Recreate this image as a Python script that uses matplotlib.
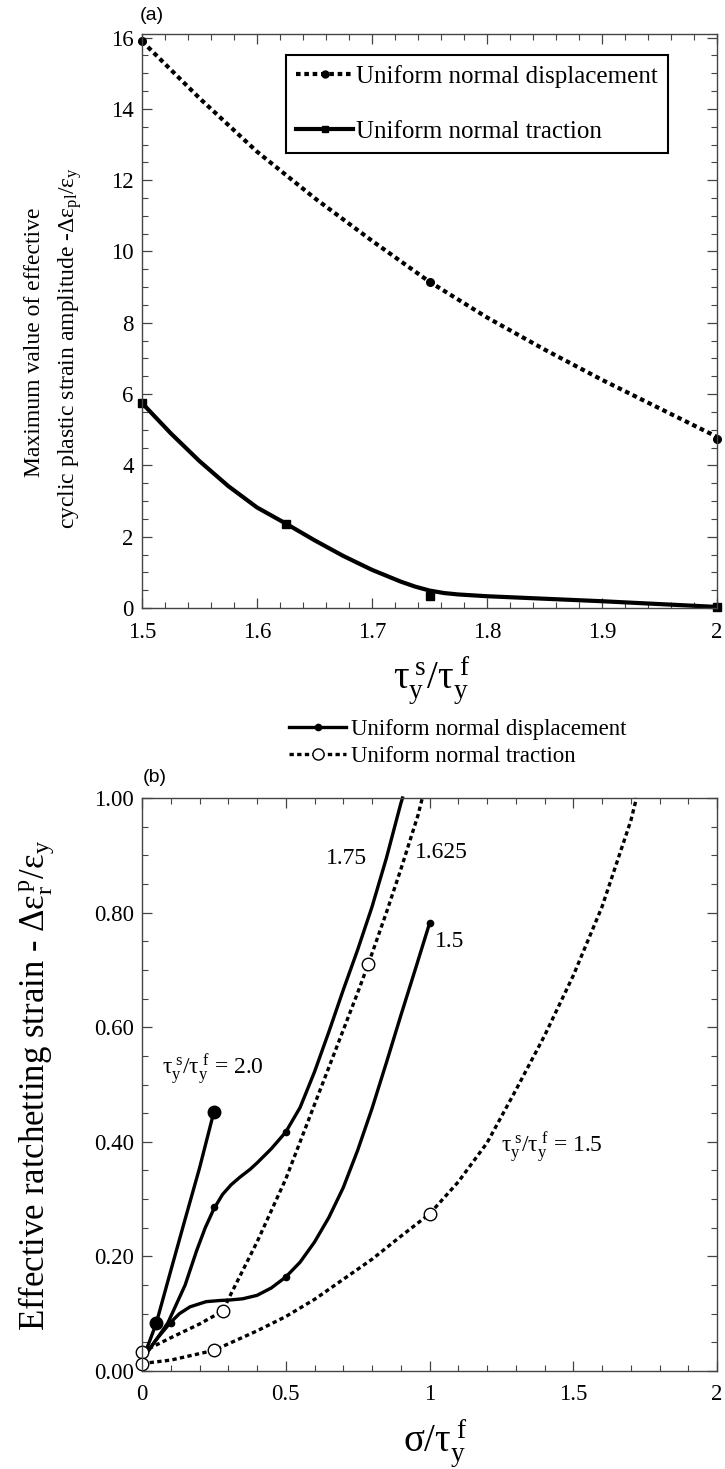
import matplotlib
matplotlib.use('Agg')
import matplotlib.pyplot as plt
from matplotlib.ticker import MultipleLocator, FormatStrFormatter
from matplotlib.lines import Line2D

plt.rcParams['font.family'] = ['Liberation Serif', 'DejaVu Serif']
plt.rcParams['mathtext.fontset'] = 'custom'
plt.rcParams['mathtext.rm'] = 'Liberation Serif'
plt.rcParams['mathtext.it'] = 'Liberation Serif'
plt.rcParams['mathtext.default'] = 'regular'

W, H = 725, 1469

# ---- panel (a): max cyclic plastic strain amplitude ----
ratio_disp_curve = [1.5, 1.55, 1.6, 1.65, 1.7, 1.75, 1.8, 1.85, 1.9, 1.95, 2.0]
amp_disp_curve = [15.9, 14.3, 12.8, 11.5, 10.3, 9.15, 8.15, 7.25, 6.4, 5.6, 4.8]
ratio_disp_pts = [1.5, 1.75, 2.0]
amp_disp_pts = [15.9, 9.15, 4.75]

ratio_trac_curve = [1.5, 1.525, 1.55, 1.575, 1.6, 1.625, 1.65, 1.675, 1.7, 1.725,
                    1.7375, 1.75, 1.7625, 1.775, 1.8, 1.85, 1.9, 1.95, 2.0]
amp_trac_curve = [5.75, 4.9, 4.12, 3.42, 2.82, 2.37, 1.9, 1.46, 1.07, 0.74,
                  0.6, 0.49, 0.42, 0.38, 0.33, 0.26, 0.19, 0.11, 0.03]
ratio_trac_pts = [1.5, 1.625, 1.75, 2.0]
amp_trac_pts = [5.75, 2.37, 0.33, 0.03]

# ---- panel (b): effective ratchetting strain ----
# solid = uniform normal displacement
s20_x = [0, 0.025, 0.05, 0.1, 0.15, 0.2, 0.25]
s20_y = [0.018, 0.05, 0.084, 0.175, 0.265, 0.354, 0.452]
s20_px = [0.05, 0.25]
s20_py = [0.084, 0.452]

s175_x = [0, 0.05, 0.09, 0.15, 0.19, 0.22, 0.25, 0.28, 0.31, 0.34, 0.376, 0.4, 0.45, 0.5,
          0.55, 0.6, 0.65, 0.7, 0.75, 0.8, 0.85, 0.9, 0.906]
s175_y = [0.02, 0.055, 0.084, 0.15, 0.21, 0.25, 0.283, 0.308, 0.325, 0.338, 0.352, 0.363,
          0.388, 0.417, 0.46, 0.522, 0.592, 0.665, 0.735, 0.81, 0.895, 0.99, 1.0]
s175_px = [0.25, 0.5]
s175_py = [0.286, 0.417]

s15_x = [0, 0.05, 0.098, 0.13, 0.167, 0.223, 0.27, 0.307, 0.35, 0.4, 0.45, 0.5,
         0.55, 0.6, 0.65, 0.7, 0.75, 0.8, 0.85, 0.9, 0.95, 1.0]
s15_y = [0.02, 0.055, 0.084, 0.1, 0.112, 0.121, 0.123, 0.124, 0.126, 0.132, 0.145, 0.164,
         0.19, 0.225, 0.268, 0.32, 0.385, 0.458, 0.538, 0.62, 0.70, 0.781]
s15_px = [0.1, 0.5, 1.0]
s15_py = [0.084, 0.164, 0.781]

# dotted = uniform normal traction
d1625_x = [0, 0.1, 0.2, 0.282, 0.3, 0.35, 0.4, 0.45, 0.5, 0.55, 0.6, 0.65, 0.7, 0.75,
           0.787, 0.85, 0.9, 0.96, 0.975]
d1625_y = [0.033, 0.058, 0.082, 0.105, 0.125, 0.175, 0.225, 0.28, 0.335, 0.4, 0.465, 0.53,
           0.595, 0.66, 0.71, 0.8, 0.875, 0.97, 1.0]
d1625_px = [0, 0.282, 0.787]
d1625_py = [0.033, 0.105, 0.71]

d15_x = [0, 0.1, 0.25, 0.4, 0.5, 0.6, 0.7, 0.8, 0.9, 1.0, 1.1, 1.2, 1.3, 1.4, 1.5,
         1.6, 1.7, 1.72]
d15_y = [0.013, 0.019, 0.036, 0.07, 0.095, 0.125, 0.16, 0.195, 0.235, 0.274, 0.33, 0.398,
         0.49, 0.585, 0.69, 0.81, 0.96, 1.0]
d15_px = [0, 0.25, 1.0]
d15_py = [0.013, 0.036, 0.274]

fig = plt.figure(figsize=(W / 100, H / 100), dpi=100)


def fx(x):
    return x / W


def fy(y):
    return 1 - y / H


def style_axes(ax, size, xpad=6):
    for s in ax.spines.values():
        s.set_color('#444444')
        s.set_linewidth(1.0)
    ax.tick_params(which='both', direction='in', top=True, right=True,
                   colors='#444444', labelcolor='black', labelsize=size)
    ax.tick_params(which='major', length=7, width=0.9, pad=6)
    ax.tick_params(axis='x', which='major', pad=xpad)
    ax.tick_params(which='minor', length=4, width=0.8)


dot_ls = (0, (1.1, 0.9))
ratio_lbl = r'$\tau_y^{\;s}/\tau_y^{\;f}$'

# ---------------- panel (a) ----------------
ax1 = fig.add_axes([fx(142), fy(608), (717 - 142) / W, (608 - 34) / H])
ax1.plot(ratio_disp_curve, amp_disp_curve, color='black', lw=3.0, linestyle=dot_ls)
ax1.plot(ratio_disp_pts, amp_disp_pts, 'o', color='black', ms=5.5)
ax1.plot(ratio_trac_curve, amp_trac_curve, color='black', lw=3.0, solid_joinstyle='round')
ax1.plot(ratio_trac_pts, amp_trac_pts, 's', color='black', ms=5.5)
ax1.set_xlim(1.5, 2.0)
ax1.set_ylim(0, 16.1)
ax1.xaxis.set_minor_locator(MultipleLocator(0.02))
ax1.yaxis.set_major_locator(MultipleLocator(2))
ax1.yaxis.set_minor_locator(MultipleLocator(0.5))
ax1.set_xticks([1.5, 1.6, 1.7, 1.8, 1.9, 2.0])
ax1.set_xticklabels(['1.5', '1.6', '1.7', '1.8', '1.9', '2'])
style_axes(ax1, 16.5, xpad=10)
for ln in ax1.get_lines():
    ln.set_clip_on(False)

h1 = Line2D([], [], color='black', lw=3.0, linestyle=dot_ls, marker='o', ms=5)
h2 = Line2D([], [], color='black', lw=3.0, marker='s', ms=5)
leg = ax1.legend([h1, h2], ['Uniform normal displacement', 'Uniform normal traction'],
                 loc='upper left', bbox_to_anchor=(0.25, 0.963), borderaxespad=0,
                 fontsize=18, labelspacing=1.3, handlelength=2.3, handletextpad=0.12,
                 borderpad=0.4, fancybox=False, framealpha=1, edgecolor='black',
                 numpoints=1)
leg.get_frame().set_linewidth(1.5)

fig.text(fx(152), fy(16), '(a)', family='Liberation Sans', fontsize=14,
         ha='center', va='center')
fig.text(fx(432), fy(680), ratio_lbl, fontsize=28, ha='center', va='center')
fig.text(fx(35), fy(342), 'Maximum value of effective', fontsize=17,
         rotation=90, ha='center', va='center')
fig.text(fx(70), fy(348), r'cyclic plastic strain amplitude -$\Delta\varepsilon_{pl}/\varepsilon_y$',
         fontsize=17, rotation=90, ha='center', va='center')

# ---------------- panel (b) ----------------
ax2 = fig.add_axes([fx(142), fy(1371), (717 - 142) / W, (1371 - 798) / H])
for xs, ys in [(s20_x, s20_y), (s175_x, s175_y), (s15_x, s15_y)]:
    ax2.plot(xs, ys, color='black', lw=2.4, solid_joinstyle='round')
for xs, ys in [(d1625_x, d1625_y), (d15_x, d15_y)]:
    ax2.plot(xs, ys, color='black', lw=2.4, linestyle=(0, (1.3, 1.0)))
ax2.plot(s20_px, s20_py, 'o', color='black', ms=9)
ax2.plot(s175_px + s15_px, s175_py + s15_py, 'o', color='black', ms=4.5)
ax2.plot(d1625_px + d15_px, d1625_py + d15_py, 'o', mfc='white', mec='black',
         mew=1.0, ms=9)
ax2.set_xlim(0, 2)
ax2.set_ylim(0, 1.0)
ax2.xaxis.set_minor_locator(MultipleLocator(0.1))
ax2.yaxis.set_major_locator(MultipleLocator(0.2))
ax2.yaxis.set_minor_locator(MultipleLocator(0.05))
ax2.set_xticks([0, 0.5, 1.0, 1.5, 2.0])
ax2.set_xticklabels(['0', '0.5', '1', '1.5', '2'])
ax2.yaxis.set_major_formatter(FormatStrFormatter('%.2f'))
style_axes(ax2, 16.5, xpad=9)
for ln in ax2.get_lines():
    ln.set_clip_on(False)

ax2.text(0.71, 0.895, '1.75', fontsize=17, ha='center', va='center')
ax2.text(1.04, 0.905, '1.625', fontsize=17, ha='center', va='center')
ax2.text(1.07, 0.75, '1.5', fontsize=17, ha='center', va='center')
ax2.text(0.07, 0.525, ratio_lbl + ' = 2.0', fontsize=17, ha='left', va='center')
ax2.text(1.247, 0.39, ratio_lbl + ' = 1.5', fontsize=17, ha='left', va='center')

g1 = Line2D([], [], color='black', lw=2.4, marker='o', ms=4.5)
g2 = Line2D([], [], color='black', lw=2.4, linestyle=(0, (1.3, 1.0)), marker='o',
            mfc='white', mec='black', ms=8)
fig.legend([g1, g2], ['Uniform normal displacement', 'Uniform normal traction'],
           loc='upper left', bbox_to_anchor=(fx(289), fy(719)), borderaxespad=0,
           borderpad=0, frameon=False, fontsize=16.5, labelspacing=0.25,
           handlelength=2.5, handletextpad=0.2, numpoints=1)

fig.text(fx(155), fy(778), '(b)', family='Liberation Sans', fontsize=14,
         ha='center', va='center')
fig.text(fx(435), fy(1443), r'$\sigma/\tau_y^{\;f}$', fontsize=28, ha='center', va='center')
fig.text(fx(36), fy(1085), r'Effective ratchetting strain - $\Delta\varepsilon_r^{\,p}/\varepsilon_y$',
         fontsize=25, rotation=90, ha='center', va='center')

fig.savefig('out.png', dpi=100)
